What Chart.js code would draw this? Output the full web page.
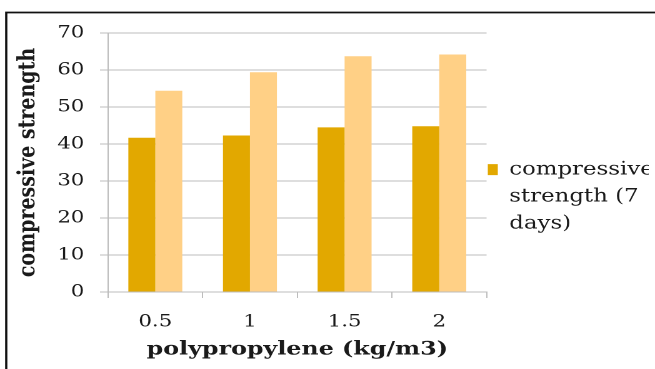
<!DOCTYPE html>
<html>
<head>
<meta charset="utf-8">
<script src="https://cdn.jsdelivr.net/npm/chart.js@4/dist/chart.umd.min.js"></script>
<style>
  html, body { margin: 0; padding: 0; background: #fff; overflow: hidden; }
  #wrap { width: 524px; height: 369px; transform: scaleX(1.25); transform-origin: 0 0; }
</style>
</head>
<body>
<div id="wrap"><canvas id="c" width="524" height="369"></canvas></div>
<script>
const categories = ['0.5', '1', '1.5', '2'];
const strength7 = [41.7, 42.3, 44.5, 44.8];
const strength28 = [54.4, 59.4, 63.7, 64.2];
const seriesLabels = ['compressive strength (7 days)', 'compressive strength (28 days)'];
const legendLines = ['compressive', 'strength (7', 'days)'];
const yTicks = [0, 10, 20, 30, 40, 50, 60, 70];

const SERIF = '"DejaVu Serif", serif';
const TEXT = '#1a1a1a';
const GRID = '#bdbdbd';

const frame = {
  id: 'frame',
  beforeDraw(chart) {
    const ctx = chart.ctx;
    ctx.save();
    ctx.fillStyle = '#ffffff';
    ctx.fillRect(0, 0, chart.width, chart.height);
    ctx.strokeStyle = '#111111';
    ctx.lineWidth = 1.8;
    ctx.beginPath();
    ctx.moveTo(5, chart.height + 5);
    ctx.lineTo(5, 12.5);
    ctx.lineTo(chart.width + 5, 12.5);
    ctx.stroke();
    ctx.restore();
  }
};

new Chart(document.getElementById('c'), {
  type: 'bar',
  data: {
    labels: categories,
    datasets: [
      { label: seriesLabels[0], data: strength7, backgroundColor: '#e2a800', borderWidth: 0 },
      { label: seriesLabels[1], data: strength28, backgroundColor: '#ffd086', borderWidth: 0 }
    ]
  },
  options: {
    responsive: false,
    animation: false,
    devicePixelRatio: 2,
    layout: { padding: { top: 33, left: 0, right: 5, bottom: 0 } },
    datasets: { bar: { categoryPercentage: 0.57, barPercentage: 1.0 } },
    plugins: {
      tooltip: { enabled: false },
      legend: {
        position: 'right',
        labels: {
          font: { family: SERIF, size: 18.3, lineHeight: 1.475 },
          color: TEXT,
          boxWidth: 8,
          boxHeight: 11,
          padding: 1,
          generateLabels(chart) {
            const ds = chart.data.datasets[0];
            return [{
              text: legendLines,
              fillStyle: ds.backgroundColor,
              strokeStyle: ds.backgroundColor,
              lineWidth: 0,
              hidden: false,
              datasetIndex: 0,
              fontColor: TEXT
            }];
          }
        }
      }
    },
    scales: {
      x: {
        afterFit(s) { s.height = 77; },
        grid: { display: true, drawOnChartArea: false, color: GRID, tickLength: 6, offset: true },
        border: { color: GRID, width: 1 },
        ticks: { font: { family: SERIF, size: 17 }, color: TEXT, padding: 14 },
        title: {
          display: true,
          text: 'polypropylene (kg/m3)',
          font: { family: SERIF, size: 19, weight: 'bold' },
          color: TEXT,
          padding: { top: 0, bottom: 8 }
        }
      },
      y: {
        min: 0,
        max: 70,
        afterFit(s) { s.width = 86.4; },
        afterBuildTicks(s) { s.ticks = yTicks.map(v => ({ value: v })); },
        grid: { color: GRID, tickLength: 6.4, lineWidth: 1 },
        border: { color: GRID, width: 1 },
        ticks: { font: { family: SERIF, size: 17 }, color: TEXT, padding: 12.5 },
        title: {
          display: true,
          text: 'compressive strength',
          font: { family: SERIF, size: 19, weight: 'bold' },
          color: TEXT,
          padding: { top: 11, bottom: 0 }
        }
      }
    }
  },
  plugins: [frame]
});
</script>
</body>
</html>
